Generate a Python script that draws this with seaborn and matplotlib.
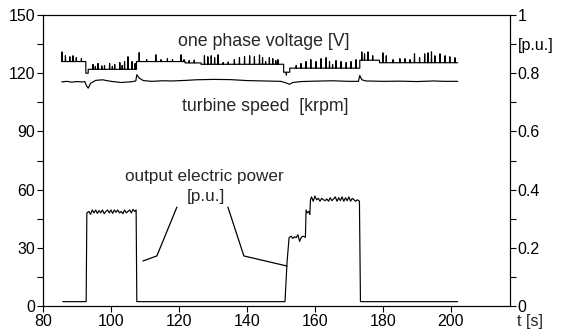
import numpy as np
import pandas as pd
import seaborn as sns
import matplotlib.pyplot as plt

# --- one phase voltage [V]: piecewise levels + spikes
volt_seg_start = [85.5, 92.6, 93.3, 107.5, 121.8, 126.5, 150.8, 152.6, 173.2, 179.0]
volt_seg_end = [92.6, 93.3, 107.5, 121.8, 126.5, 150.8, 152.6, 173.2, 179.0, 202.0]
volt_level = [126.0, 120.0, 122.0, 126.0, 125.3, 124.6, 120.5, 122.6, 126.7, 125.4]

volt_spike_t = [85.6, 86.6, 87.9, 88.8, 89.8, 91.3, 94.7, 95.4, 96.2, 97.3, 98.1, 99.6,
                100.4, 101.1, 102.6, 103.3, 104.0, 105.0, 106.2, 107.1, 108.3, 110.5,
                113.2, 114.7, 116.6, 118.1, 120.6, 121.5, 123.0, 124.5, 127.5, 128.5,
                129.5, 130.5, 131.5, 133.0, 134.5, 136.3, 137.8, 139.3, 140.8, 142.2,
                143.7, 144.6, 145.5, 146.6, 147.6, 148.5, 149.1, 151.6, 154.5, 155.9,
                157.4, 158.8, 160.3, 161.8, 163.3, 164.3, 165.2, 166.2, 167.7, 169.2,
                170.6, 172.1, 173.8, 174.6, 175.6, 177.0, 180.0, 181.0, 183.0, 185.0,
                186.5, 188.0, 189.3, 190.8, 192.3, 193.3, 194.3, 195.3, 196.8, 198.3,
                199.7, 201.2]
volt_spike_v = [131.0, 129.0, 128.5, 129.0, 128.0, 127.5, 124.5, 123.5, 125.0, 123.8, 124.0, 125.0,
                123.5, 124.5, 125.5, 124.0, 126.0, 128.5, 126.0, 125.0, 130.6, 127.0,
                129.5, 127.0, 127.5, 127.0, 129.5, 127.0, 126.5, 126.8, 129.0, 128.5,
                129.0, 128.0, 129.5, 125.5, 125.8, 127.0, 128.0, 128.5, 129.0, 128.5,
                129.4, 128.0, 126.0, 128.0, 127.5, 126.5, 127.0, 119.0, 124.0, 125.0,
                126.0, 127.0, 126.0, 127.5, 128.0, 126.0, 124.5, 126.5, 126.0, 125.5,
                126.0, 127.0, 131.0, 130.0, 131.0, 129.0, 130.5, 129.0, 127.0, 127.5,
                127.5, 127.0, 130.0, 128.0, 130.0, 130.5, 131.0, 129.0, 130.0, 129.0,
                128.5, 128.0]

# --- turbine speed [krpm]
speed_t = [85.5, 87.0, 88.5, 90.0, 91.5, 92.3, 92.8, 93.3, 94.0, 95.5,
           97.5, 100.0, 103.0, 106.0, 107.3, 107.6, 108.3, 109.5, 112.0, 115.0,
           118.0, 122.0, 125.0, 130.0, 135.0, 140.0, 145.0, 150.0, 151.5, 152.5,
           153.5, 156.0, 160.0, 165.0, 170.0, 172.8, 173.2, 173.8, 175.0, 180.0,
           185.0, 190.0, 195.0, 198.0, 202.0]
speed_v = [115.5, 115.8, 115.4, 115.7, 115.5, 115.7, 113.5, 112.3, 114.8, 116.3,
           116.6, 115.8, 115.2, 115.6, 116.0, 119.2, 117.5, 116.2, 115.8, 116.1,
           116.0, 116.3, 116.6, 116.8, 116.7, 116.2, 116.0, 115.8, 115.0, 114.3,
           115.2, 115.7, 115.9, 116.1, 115.8, 115.8, 118.8, 116.6, 116.0, 115.8,
           115.9, 115.7, 116.0, 115.8, 115.8]

# --- output electric power [p.u.]
power_t = [85.8, 92.7, 92.9, 93.5, 94.0, 94.5, 95.0, 95.5, 96.0, 96.5,
           97.0, 97.5, 98.0, 98.5, 99.0, 99.5, 100.0, 100.5, 101.0, 101.5,
           102.0, 102.5, 103.0, 103.5, 104.0, 104.5, 105.0, 105.5, 106.0, 106.5,
           107.0, 107.4, 107.6, 151.2, 151.8, 152.4, 153.0, 153.5, 154.0, 154.5,
           155.0, 155.5, 156.0, 156.5, 157.2, 157.4, 157.8, 158.2, 158.5, 158.7,
           159.0, 159.5, 160.0, 160.5, 161.0, 161.5, 162.0, 162.5, 163.0, 163.5,
           164.0, 164.5, 165.0, 165.5, 166.0, 166.5, 167.0, 167.5, 168.0, 168.5,
           169.0, 169.5, 170.0, 170.5, 171.0, 171.5, 172.0, 172.5, 173.1, 173.4,
           202.0]
power_v = [0.015, 0.015, 0.32, 0.325, 0.315, 0.33, 0.32, 0.33, 0.318, 0.328,
           0.32, 0.33, 0.317, 0.325, 0.33, 0.32, 0.33, 0.318, 0.33, 0.322,
           0.33, 0.32, 0.325, 0.317, 0.33, 0.32, 0.325, 0.33, 0.32, 0.332,
           0.325, 0.33, 0.015, 0.015, 0.15, 0.235, 0.24, 0.232, 0.238, 0.235,
           0.245, 0.222, 0.236, 0.24, 0.236, 0.33, 0.32, 0.325, 0.315, 0.365,
           0.375, 0.36, 0.378, 0.365, 0.37, 0.36, 0.37, 0.365, 0.362, 0.368,
           0.36, 0.372, 0.362, 0.368, 0.375, 0.36, 0.372, 0.362, 0.375, 0.36,
           0.372, 0.362, 0.375, 0.36, 0.37, 0.365, 0.36, 0.365, 0.36, 0.015,
           0.015]

# annotation leader lines (left-axis units)
lead_left_x = [119.4, 113.5, 109.4]
lead_left_y = [51.0, 25.8, 23.2]
lead_right_x = [134.4, 139.1, 151.8]
lead_right_y = [51.0, 25.8, 20.6]


def build_trace(starts, ends, levels, spike_t, spike_v):
    pts = []
    for s, e, lv in zip(starts, ends, levels):
        pts.append((s, lv))
        pts.append((e, lv))
    for t, v in zip(spike_t, spike_v):
        base = levels[0]
        for s, e, lv in zip(starts, ends, levels):
            if s <= t <= e:
                base = lv
        pts += [(t - 0.07, base), (t, v), (t + 0.07, base)]
    df = pd.DataFrame(pts, columns=['t', 'v'])
    return df.sort_values('t', kind='stable').reset_index(drop=True)


volt_df = build_trace(volt_seg_start, volt_seg_end, volt_level, volt_spike_t, volt_spike_v)

sns.set_style('ticks')
plt.rcParams['font.family'] = ['Liberation Sans', 'DejaVu Sans']

fig = plt.figure(figsize=(5.62, 3.33), dpi=100)
ax = fig.add_axes([43 / 562, 27 / 333, 467 / 562, 291 / 333])
ax2 = ax.twinx()

kw = dict(color='black', linewidth=0.85, sort=False, estimator=None, legend=False)
sns.lineplot(data=volt_df, x='t', y='v', ax=ax, **kw)
sns.lineplot(x=speed_t, y=speed_v, ax=ax, **kw)
sns.lineplot(x=power_t, y=power_v, ax=ax2, **kw)

ax.plot(lead_left_x, lead_left_y, color='black', lw=0.9)
ax.plot(lead_right_x, lead_right_y, color='black', lw=0.9)

ax.set_xlim(80, 217.4)
ax.set_ylim(0, 150)
ax2.set_ylim(0, 1)
ax.set_xlabel('')
ax.set_ylabel('')
ax2.set_ylabel('')

ax.set_xticks([80, 100, 120, 140, 160, 180, 200])
ax.set_yticks([0, 30, 60, 90, 120, 150])
ax.set_yticks([15, 45, 75, 105, 135], minor=True)
ax2.set_yticks([0, 0.2, 0.4, 0.6, 0.8, 0.9, 1])
ax2.set_yticklabels(['0', '0.2', '0.4', '0.6', '0.8', '[p.u.]', '1'])
ax2.set_yticks([0.1, 0.3, 0.5, 0.7], minor=True)

for a in (ax, ax2):
    a.tick_params(which='both', direction='out', length=4, width=0.8,
                  labelsize=11.5, pad=1.5, colors='black')
    for sp in a.spines.values():
        sp.set_visible(True)
        sp.set_linewidth(0.8)
        sp.set_color('black')

ax.text(145.0, 136.2, 'one phase voltage [V]', ha='center', va='center', fontsize=12.8)
ax.text(145.5, 102.7, 'turbine speed  [krpm]', ha='center', va='center', fontsize=12.8)
ax.text(127.6, 66.6, 'output electric power', ha='center', va='center', fontsize=12.3)
ax.text(127.8, 56.3, '[p.u.]', ha='center', va='center', fontsize=12.3)
ax.text(223.3, -8.2, 't [s]', ha='center', va='center', fontsize=11.5, clip_on=False)

plt.savefig('out.png', dpi=100)
plt.close()
